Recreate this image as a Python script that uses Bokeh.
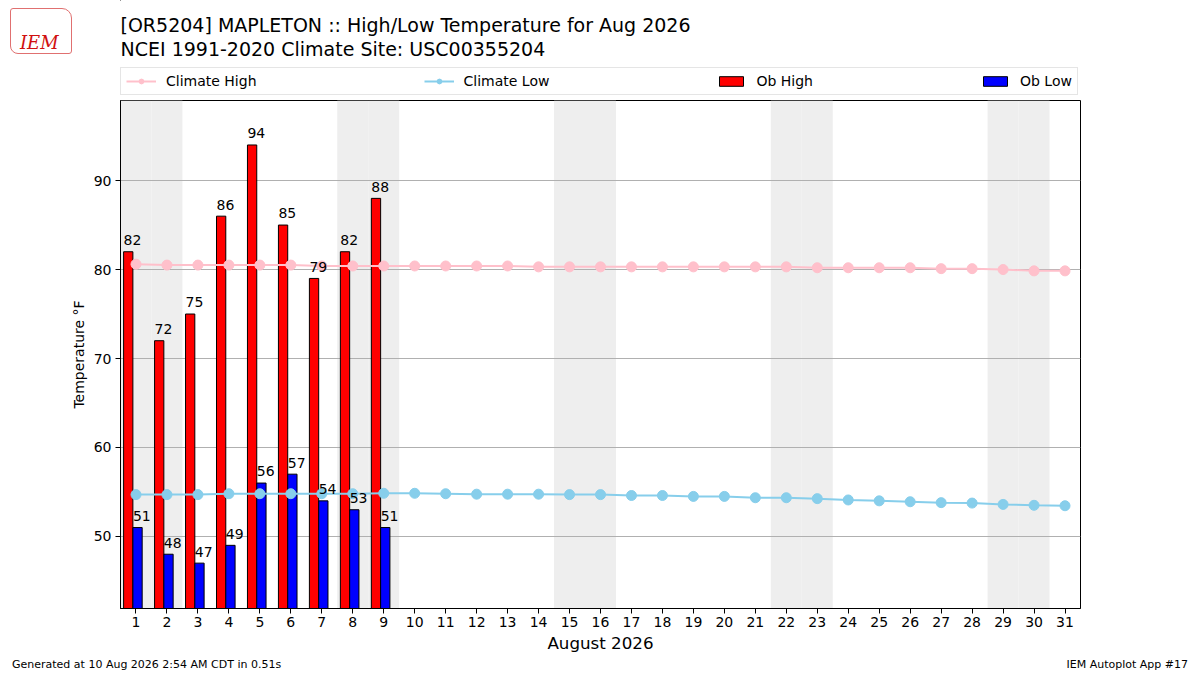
import datetime
from bokeh.plotting import figure
from bokeh.layouts import column, row
from bokeh.models import (Range1d, Legend, LegendItem, Label, BoxAnnotation,
                          ColumnDataSource, FixedTicker, Div)
from bokeh.transform import dodge
from bokeh.core.properties import value
from bokeh.embed import file_html
from bokeh.resources import INLINE

YEAR, MONTH = 2026, 8
days = list(range(1, 32))
climate_high = [80.6, 80.5, 80.5, 80.5, 80.5, 80.5, 80.4, 80.4, 80.4, 80.4, 80.4,
                80.4, 80.4, 80.3, 80.3, 80.3, 80.3, 80.3, 80.3, 80.3, 80.3, 80.3,
                80.2, 80.2, 80.2, 80.2, 80.1, 80.1, 80.0, 79.85, 79.85]
climate_low = [54.7, 54.7, 54.7, 54.8, 54.8, 54.8, 54.8, 54.8, 54.85, 54.85, 54.8,
               54.75, 54.75, 54.75, 54.7, 54.7, 54.6, 54.6, 54.5, 54.5, 54.35, 54.35,
               54.25, 54.1, 54.0, 53.9, 53.8, 53.75, 53.6, 53.5, 53.45]
ob_days = [1, 2, 3, 4, 5, 6, 7, 8, 9]
ob_high = [82, 72, 75, 86, 94, 85, 79, 82, 88]
ob_low = [51, 48, 47, 49, 56, 57, 54, 53, 51]
y_ticks = [50, 60, 70, 80, 90]

title1 = "[OR5204] MAPLETON :: High/Low Temperature for Aug 2026"
title2 = "NCEI 1991-2020 Climate Site: USC00355204"
footer_left = "Generated at 10 Aug 2026 2:54 AM CDT in 0.51s"
footer_right = "IEM Autoplot App #17"

FONT = "DejaVu Sans"
W = 1200
HEAD_H, MAIN_H, FOOT_H = 100, 555, 20

clim = ColumnDataSource(dict(day=days, high=climate_high, low=climate_low))
obs = ColumnDataSource(dict(day=ob_days, high=ob_high, low=ob_low,
                            high_s=[str(v) for v in ob_high],
                            low_s=[str(v) for v in ob_low]))

# ---------------- main chart ----------------
p = figure(width=W, height=MAIN_H,
           min_border_left=120, min_border_right=120,
           min_border_top=0, min_border_bottom=47,
           x_range=Range1d(0.5, 31.5), y_range=Range1d(41.9, 99.0),
           output_backend="svg", toolbar_location=None, title_location=None)

for d in days:
    if datetime.date(YEAR, MONTH, d).weekday() >= 5:
        p.add_layout(BoxAnnotation(left=d - 0.5, right=d + 0.5, fill_color="#eeeeee",
                                   fill_alpha=1.0, line_color=None, level="image"))

p.vbar(x=dodge("day", -0.25, range=p.x_range), top="high", bottom=0, width=0.3,
       source=obs, fill_color="red", line_color="black", line_width=1)
p.vbar(x=dodge("day", 0.05, range=p.x_range), top="low", bottom=0, width=0.3,
       source=obs, fill_color="blue", line_color="black", line_width=1)

p.line("day", "high", source=clim, line_color="pink", line_width=2)
p.scatter("day", "high", source=clim, size=10, fill_color="pink", line_color="pink")
p.line("day", "low", source=clim, line_color="skyblue", line_width=2)
p.scatter("day", "low", source=clim, size=10, fill_color="skyblue", line_color="skyblue")

for col, off in (("high", -0.4), ("low", -0.1)):
    p.text(x=dodge("day", off, range=p.x_range), y=dodge(col, 1.3, range=p.y_range),
           text=col + "_s", source=obs,
           text_font=value(FONT), text_font_size="14px", text_color="black",
           text_align="left", text_baseline="alphabetic")

p.xaxis.ticker = FixedTicker(ticks=days)
p.yaxis.ticker = FixedTicker(ticks=y_ticks)
for ax in (p.xaxis[0], p.yaxis[0]):
    ax.major_label_text_font = FONT
    ax.major_label_text_font_size = "14px"
    ax.major_label_text_color = "black"
    ax.axis_label_text_font = FONT
    ax.axis_label_text_font_style = "normal"
    ax.axis_label_text_color = "black"
    ax.minor_tick_line_color = None
    ax.major_tick_in = 0
    ax.major_tick_out = 5
    ax.major_tick_line_color = "black"
    ax.axis_line_color = "black"
p.xaxis.axis_label = "August 2026"
p.xaxis.axis_label_text_font_size = "16.7px"
p.xaxis.major_label_standoff = 3
p.xaxis.axis_label_standoff = 3
p.yaxis.axis_label = "Temperature \u00b0F"
p.yaxis.axis_label_text_font_size = "14px"
p.yaxis.major_label_standoff = 4
p.yaxis.axis_label_standoff = 4

p.xgrid.visible = False
p.ygrid.grid_line_color = "#b0b0b0"
p.ygrid.grid_line_width = 1
p.outline_line_color = "black"
p.outline_line_alpha = 1.0
p.outline_line_width = 1

# ---------------- header: titles + legend ----------------
h = figure(width=W - 120, height=HEAD_H, min_border_left=0, min_border_right=120,
           min_border_top=0, min_border_bottom=0,
           x_range=Range1d(120, 1080), y_range=Range1d(HEAD_H, 0),
           x_axis_type=None, y_axis_type=None,
           output_backend="svg", toolbar_location=None, title_location=None)
h.grid.visible = False
h.outline_line_color = None

hidden = dict(x=[-1000], y=[-1000])
lg_ch_l = h.line("x", "y", source=ColumnDataSource(hidden), line_color="pink", line_width=2)
lg_ch_c = h.scatter("x", "y", source=ColumnDataSource(hidden), size=10,
                    fill_color="pink", line_color="pink")
lg_cl_l = h.line("x", "y", source=ColumnDataSource(hidden), line_color="skyblue", line_width=2)
lg_cl_c = h.scatter("x", "y", source=ColumnDataSource(hidden), size=10,
                    fill_color="skyblue", line_color="skyblue")
lg_hb = h.vbar(x="x", top="y", width=1, source=ColumnDataSource(hidden),
               fill_color="red", line_color="black")
lg_lb = h.vbar(x="x", top="y", width=1, source=ColumnDataSource(hidden),
               fill_color="blue", line_color="black")

legend = Legend(items=[
    LegendItem(label="Climate High", renderers=[lg_ch_l, lg_ch_c]),
    LegendItem(label="Climate Low", renderers=[lg_cl_l, lg_cl_c]),
    LegendItem(label="Ob High", renderers=[lg_hb]),
    LegendItem(label="Ob Low", renderers=[lg_lb]),
], orientation="horizontal", location=(0, 5), spacing=167,
    glyph_width=30, glyph_height=12, label_standoff=10,
    label_text_font=FONT, label_text_font_size="14px", label_text_color="black",
    padding=5, margin=0, border_line_color="#cccccc", border_line_width=1,
    background_fill_alpha=1.0)
h.add_layout(legend, "center")

for yy, txt in ((24, title1), (48, title2)):
    h.add_layout(Label(x=120, y=yy, text=txt, text_font=FONT, text_font_size="19px",
                       text_align="left", text_baseline="middle", text_color="black"))

logo = Div(width=120, height=HEAD_H, margin=0, text=(
    '<div style="position:absolute;left:10px;top:8px;width:62px;height:46px;'
    'border:1px solid #e07070;border-radius:3px 10px 3px 8px;"></div>'
    '<div style="position:absolute;left:20px;top:33px;font-family:\'DejaVu Serif\';'
    'font-style:italic;font-size:18px;color:#d01010;line-height:20px;">IEM</div>'))

foot_l = Div(width=W // 2, height=FOOT_H, margin=0, text=(
    '<div style="position:absolute;left:12px;top:2px;font-family:\'DejaVu Sans\';'
    'font-size:11px;color:black;white-space:nowrap;">%s</div>' % footer_left))
foot_r = Div(width=W // 2, height=FOOT_H, margin=0, text=(
    '<div style="position:absolute;right:12px;top:2px;font-family:\'DejaVu Sans\';'
    'font-size:11px;color:black;white-space:nowrap;">%s</div>' % footer_right))

layout = column(row(logo, h, spacing=0), p, row(foot_l, foot_r, spacing=0), spacing=0)
open("out.html", "w").write(file_html(layout, INLINE))
